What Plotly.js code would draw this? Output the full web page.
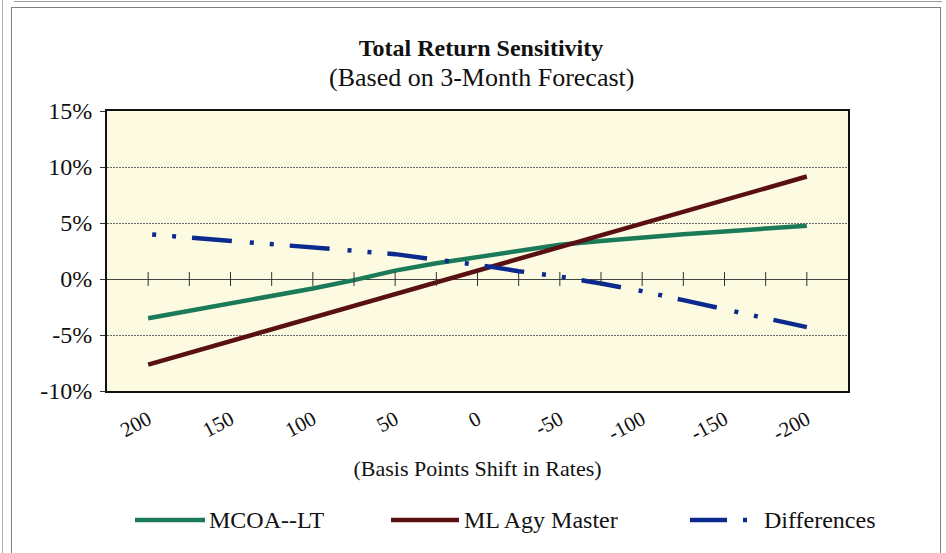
<!DOCTYPE html>
<html>
<head>
<meta charset="utf-8">
<script src="https://cdn.plot.ly/plotly-3.0.1.min.js"></script>
<style>
  html, body { margin: 0; padding: 0; background: #ffffff; }
  #page { position: relative; width: 946px; height: 553px; overflow: hidden; background: #ffffff; }
  #frame { position: absolute; left: 11px; top: 7px; width: 928px; height: 560px; border: 1px solid #808080; }
  #edgeTop { position: absolute; left: 14px; top: 1px; width: 928px; height: 0; border-top: 1px solid #9a9a9a; }
  #edgeLeft { position: absolute; left: 2px; top: 0; width: 0; height: 553px; border-left: 1px solid #b0b0b0; }
  #chart { position: absolute; left: 0; top: 0; width: 946px; height: 553px; }
</style>
</head>
<body>
<div id="page">
  <div id="edgeTop"></div>
  <div id="edgeLeft"></div>
  <div id="frame"></div>
  <div id="chart"></div>
</div>
<script>
// Rate shift scenarios (basis points) and total return (%) for each portfolio
const BASIS_POINTS = [200, 175, 150, 125, 100, 75, 50, 25, 0, -25, -50, -75, -100, -125, -150, -175, -200];
const MCOA_LT = [-3.5, -2.85, -2.2, -1.55, -0.85, -0.1, 0.75, 1.4, 1.95, 2.5, 3.05, 3.4, 3.75, 4.0, 4.25, 4.5, 4.75];
const ML_AGY_MASTER = [-7.65, -6.6, -5.55, -4.5, -3.45, -2.4, -1.35, -0.3, 0.75, 1.8, 2.85, 3.9, 4.95, 6.0, 7.05, 8.1, 9.15];
const DIFFERENCES = [4.0, 3.7, 3.38, 3.05, 2.72, 2.47, 2.22, 1.72, 1.27, 0.7, 0.22, -0.4, -1.08, -1.89, -2.7, -3.5, -4.3];

const SERIES_NAMES = ['MCOA--LT', 'ML Agy Master', 'Differences'];
const X_TICK_VALUES = [200, 150, 100, 50, 0, -50, -100, -150, -200];
const X_TICK_LABELS = ['200', '150', '100', '50', '0', '-50', '-100', '-150', '-200'];
const Y_TICK_VALUES = [-10, -5, 0, 5, 10, 15];
const Y_TICK_LABELS = ['-10%', '-5%', '0%', '5%', '10%', '15%'];

const GREEN = '#1b7a58';
const MAROON = '#5a1012';
const NAVY = '#0c2a8e';
const INK = '#111111';
const SERIF = '"Liberation Serif", "Times New Roman", serif';

const W = 946, H = 553;
const M = { l: 107, r: 98, t: 111, b: 162 };
const plotW = W - M.l - M.r, plotH = H - M.t - M.b;
// page pixel -> paper fraction (for the subtitle and the key below the plot)
const px = x => (x - M.l) / plotW;
const py = y => (H - M.b - y) / plotH;

const traces = [
  {
    x: BASIS_POINTS, y: MCOA_LT, name: SERIES_NAMES[0], type: 'scatter', mode: 'lines',
    line: { color: GREEN, width: 4.5 }, showlegend: false, hoverinfo: 'x+y'
  },
  {
    x: BASIS_POINTS, y: ML_AGY_MASTER, name: SERIES_NAMES[1], type: 'scatter', mode: 'lines',
    line: { color: MAROON, width: 4.5 }, showlegend: false, hoverinfo: 'x+y'
  },
  {
    x: BASIS_POINTS, y: DIFFERENCES, name: SERIES_NAMES[2], type: 'scatter', mode: 'lines',
    line: { color: NAVY, width: 4.5, dash: '0px,4px,4px,16px,4px,16px,40px,14px' },
    showlegend: false, hoverinfo: 'x+y'
  },
  // category tick marks sitting on the 0% axis line
  {
    x: BASIS_POINTS, y: BASIS_POINTS.map(() => 0), type: 'scatter', mode: 'markers',
    marker: { symbol: 'line-ns', size: 10, line: { color: '#333333', width: 1 } },
    showlegend: false, hoverinfo: 'skip'
  }
];

// key entries drawn under the axis title
const keyY = py(520);
const keyItems = [
  { x0: 135, x1: 205, textX: 207, color: GREEN, dash: 'solid', label: SERIES_NAMES[0] },
  { x0: 391, x1: 459, textX: 462, color: MAROON, dash: 'solid', label: SERIES_NAMES[1] },
  { x0: 690, x1: 748, textX: 762, color: NAVY, dash: '37px,16px,4px,100px', label: SERIES_NAMES[2] }
];

const shapes = keyItems.map(k => ({
  type: 'line', xref: 'paper', yref: 'paper',
  x0: px(k.x0), x1: px(k.x1), y0: keyY, y1: keyY,
  line: { color: k.color, width: 4.5, dash: k.dash }
}));

const annotations = keyItems.map(k => ({
  xref: 'paper', yref: 'paper', x: px(k.textX), y: keyY,
  xanchor: 'left', yanchor: 'middle', showarrow: false,
  text: k.label, font: { family: SERIF, size: 24, color: INK }
}));

annotations.push({
  xref: 'paper', yref: 'paper', x: px(481), y: py(77),
  xanchor: 'center', yanchor: 'middle', showarrow: false,
  text: '(Based on 3-Month Forecast)', font: { family: SERIF, size: 26, color: INK }
});

const layout = {
  width: W, height: H,
  margin: M,
  paper_bgcolor: 'rgba(0,0,0,0)',
  plot_bgcolor: '#fcfbe2',
  showlegend: false,
  title: {
    text: '<b>Total Return Sensitivity</b>',
    font: { family: SERIF, size: 24, color: INK },
    xref: 'container', yref: 'container',
    x: 481 / W, xanchor: 'center',
    y: 1 - 48 / H, yanchor: 'middle'
  },
  xaxis: {
    range: [225, -225],
    tickmode: 'array', tickvals: X_TICK_VALUES, ticktext: X_TICK_LABELS,
    tickangle: -28,
    ticks: '', showgrid: false, zeroline: false,
    showline: true, mirror: true, linecolor: INK, linewidth: 2,
    tickfont: { family: SERIF, size: 21, color: INK },
    ticklabelstandoff: 6,
    title: {
      text: '(Basis Points Shift in Rates)',
      font: { family: SERIF, size: 22, color: INK },
      standoff: 16
    }
  },
  yaxis: {
    range: [-10, 15],
    tickmode: 'array', tickvals: Y_TICK_VALUES, ticktext: Y_TICK_LABELS,
    ticks: 'outside', ticklen: 5, tickcolor: '#333333', tickwidth: 1,
    ticklabelstandoff: 3,
    showgrid: true, gridcolor: '#6a6a6a', gridwidth: 1, griddash: '2px,1px',
    zeroline: true, zerolinecolor: '#444444', zerolinewidth: 1,
    showline: true, mirror: true, linecolor: INK, linewidth: 2,
    tickfont: { family: SERIF, size: 24, color: INK }
  },
  shapes: shapes,
  annotations: annotations
};

Plotly.newPlot('chart', traces, layout, { staticPlot: true, displayModeBar: false });
</script>
</body>
</html>
